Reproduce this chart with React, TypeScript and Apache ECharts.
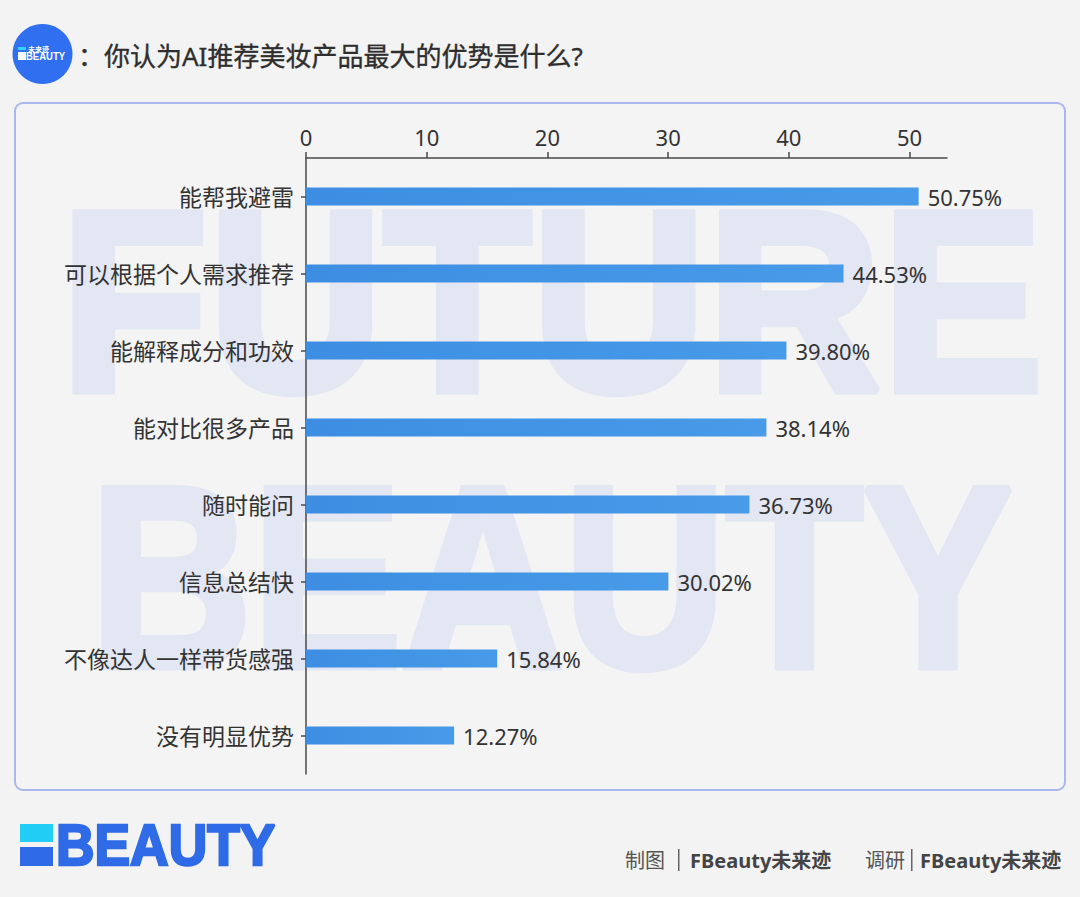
import React, { useEffect, useRef } from "react";
import * as echarts from "echarts";

const categories = [
  "能帮我避雷",
  "可以根据个人需求推荐",
  "能解释成分和功效",
  "能对比很多产品",
  "随时能问",
  "信息总结快",
  "不像达人一样带货感强",
  "没有明显优势",
];
const values = [50.75, 44.53, 39.8, 38.14, 36.73, 30.02, 15.84, 12.27];
const xTicks = [0, 10, 20, 30, 40, 50];

const titleText = "：你认为AI推荐美妆产品最大的优势是什么?";
const FONT = "'Noto Sans', 'Noto Sans CJK SC', sans-serif";

function t(x: number, y: number, text: string, style: any, extra: any = {}) {
  return {
    type: "text",
    x,
    y,
    ...extra,
    style: {
      text,
      fontFamily: FONT,
      textAlign: style.align || "left",
      textVerticalAlign: style.verticalAlign || "middle",
      ...style,
    },
  };
}

export default function App() {
  const ref = useRef<HTMLDivElement>(null);
  useEffect(() => {
    document.body.style.margin = "0";
    const chart = echarts.init(ref.current!, undefined, { renderer: "svg" });
    const axisColor = "#4a4a4a";
    const wm = "#e3e6f3";
    chart.setOption({
      animation: false,
      backgroundColor: "#f3f3f3",
      grid: { left: 306, top: 158, width: 641, height: 616, containLabel: false },
      xAxis: {
        type: "value",
        position: "top",
        min: 0,
        max: 53.1,
        z: 5,
        axisLine: { show: true, lineStyle: { color: axisColor, width: 1.5 } },
        axisTick: { show: true, length: 6, customValues: xTicks, lineStyle: { color: axisColor, width: 1.5 } },
        axisLabel: { customValues: xTicks, fontSize: 22, color: "#333", margin: 10, fontFamily: FONT },
        splitLine: { show: false },
      },
      yAxis: {
        type: "category",
        data: categories,
        inverse: true,
        z: 5,
        axisLine: { show: true, lineStyle: { color: axisColor, width: 1.5 } },
        axisTick: { show: true, alignWithLabel: true, length: 5, lineStyle: { color: axisColor, width: 1.5 } },
        axisLabel: { fontSize: 23, color: "#333", margin: 12, fontFamily: FONT },
      },
      series: [
        {
          type: "bar",
          data: values,
          barWidth: 18,
          z: 6,
          itemStyle: {
            color: new echarts.graphic.LinearGradient(0, 0, 1, 0, [
              { offset: 0, color: "#3d8ee2" },
              { offset: 1, color: "#479be8" },
            ]),
          },
          label: {
            show: true,
            position: "right",
            distance: 9,
            fontSize: 22,
            color: "#333",
            fontFamily: FONT,
            formatter: (p: any) => `${Number(p.value).toFixed(2)}%`,
          },
        },
      ],
      graphic: [
        // panel
        {
          type: "rect",
          z: 0,
          shape: { x: 15, y: 103, width: 1050, height: 687, r: 8 },
          style: { fill: "#f4f4f4", stroke: "#a9b7ec", lineWidth: 2 },
        },
        // watermark
        t(60, 301, "FUTURE", {
          fontSize: 258,
          fontWeight: "bold",
          fontFamily: "'Liberation Sans', Arial, sans-serif",
          fill: wm,
          stroke: wm,
          lineWidth: 8,
        }, { z: 1, scaleX: 0.94 }),
        t(90, 577, "BEAUTY", {
          fontSize: 258,
          fontWeight: "bold",
          fontFamily: "'Liberation Sans', Arial, sans-serif",
          fill: wm,
          stroke: wm,
          lineWidth: 8,
        }, { z: 1, scaleX: 0.87 }),
        // header logo
        { type: "circle", z: 10, shape: { cx: 42.5, cy: 54, r: 30 }, style: { fill: "#2f6ff0" } },
        { type: "rect", z: 11, shape: { x: 18, y: 47, width: 8, height: 3 }, style: { fill: "#35d3ff" } },
        { type: "rect", z: 11, shape: { x: 18, y: 52, width: 8, height: 8 }, style: { fill: "#ffffff" } },
        t(28, 49, "未来迹", { fontSize: 7, fill: "#ffffff", fontFamily: "'Noto Sans CJK SC', sans-serif", fontWeight: "bold" }, { z: 11 }),
        t(26, 56.5, "BEAUTY", { fontSize: 10, fill: "#ffffff", fontWeight: "bold", fontFamily: "'Liberation Sans', Arial, sans-serif" }, { z: 11, scaleX: 0.95 }),
        // title
        t(78, 56, titleText, { fontSize: 26, fill: "#2e2e2e", fontWeight: "normal", stroke: "#2e2e2e", lineWidth: 0.35 }, { z: 10 }),
        // footer logo
        { type: "rect", z: 10, shape: { x: 20, y: 824, width: 33, height: 18 }, style: { fill: "#22cdf5" } },
        { type: "rect", z: 10, shape: { x: 20, y: 847, width: 33, height: 19 }, style: { fill: "#2f6be6" } },
        t(56, 845, "BEAUTY", {
          fontSize: 58,
          fontWeight: "bold",
          fontFamily: "'Liberation Sans', Arial, sans-serif",
          fill: "#2f6be6",
          stroke: "#2f6be6",
          lineWidth: 2.5,
        }, { z: 10, scaleX: 0.92 }),
        // footer credits
        t(625, 860, "制图", { fontSize: 20, fill: "#555" }, { z: 10 }),
        { type: "rect", z: 10, shape: { x: 678, y: 849, width: 1.5, height: 22 }, style: { fill: "#666" } },
        t(690, 860, "FBeauty未来迹", { fontSize: 20, fill: "#444", fontWeight: "bold" }, { z: 10 }),
        t(865, 860, "调研", { fontSize: 20, fill: "#555" }, { z: 10 }),
        { type: "rect", z: 10, shape: { x: 911, y: 849, width: 1.5, height: 22 }, style: { fill: "#666" } },
        t(920, 860, "FBeauty未来迹", { fontSize: 20, fill: "#444", fontWeight: "bold" }, { z: 10 }),
      ],
    });
    return () => chart.dispose();
  }, []);
  return <div ref={ref} style={{ width: 1080, height: 897 }} />;
}
